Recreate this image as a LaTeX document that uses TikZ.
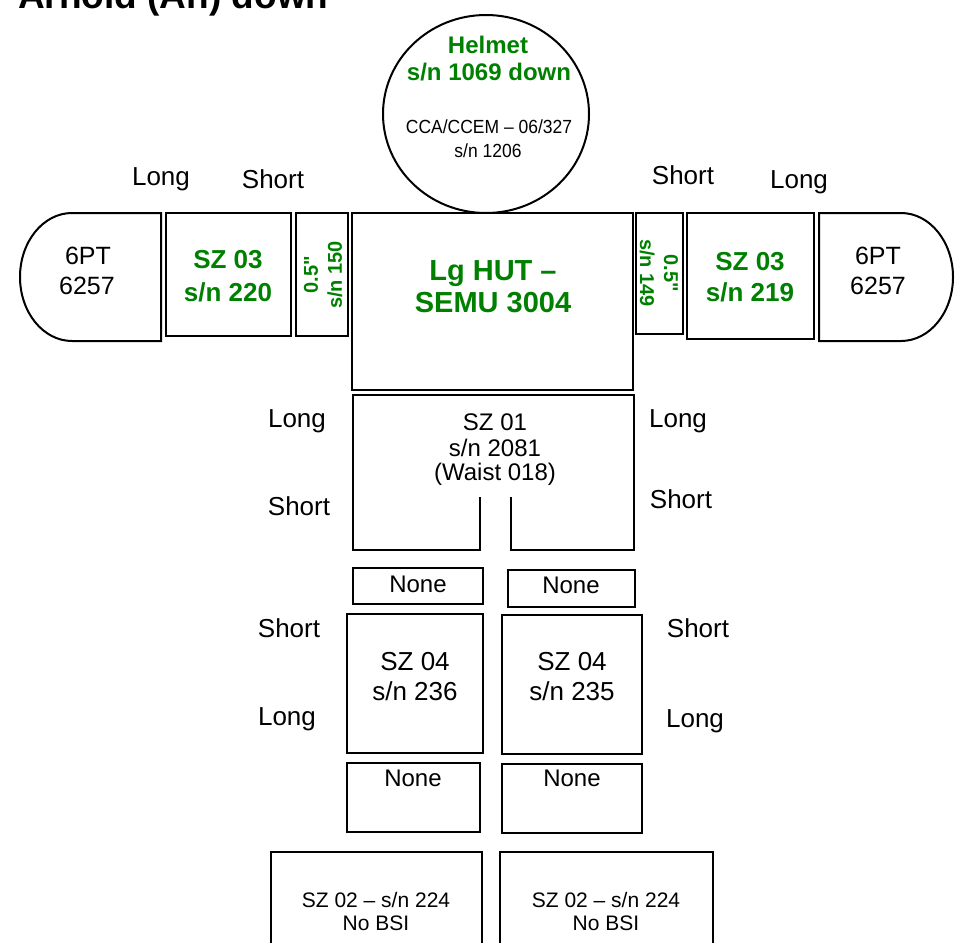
\documentclass[tikz,border=0pt]{standalone}
\usepackage{fontspec}
\setmainfont{Liberation Sans}
\newfontfamily\narrowfont[FakeStretch=0.92]{Liberation Sans}
\newcommand\strq{\XeTeXglyph\XeTeXcharglyph34\relax}
\definecolor{grn}{RGB}{0,128,0}
\tikzset{
  shp/.style={draw=black, line width=2pt, line join=miter},
  lbl/.style={inner sep=0pt, anchor=base, font=\fontsize{#1}{#1}\selectfont},
  glbl/.style={inner sep=0pt, anchor=base, text=grn, font=\bfseries\fontsize{#1}{#1}\selectfont},
  rlbl/.style={inner sep=0pt, align=center, text=grn, font=\bfseries\fontsize{20}{24}\selectfont},
}
\begin{document}
\begin{tikzpicture}[x=1pt,y=-1pt]
\useasboundingbox (0,0) rectangle (958,942);

% title (cut at top)
\node[inner sep=0pt, anchor=base west, font=\bfseries\fontsize{37}{40}\selectfont] (title) at (18,9) {Arnold (An) down};

% helmet
\draw[shp] (486,114) ellipse [x radius=103, y radius=99];
\node[glbl=24] (helm1) at (488,53) {Helmet};
\node[glbl=24] (helm2) at (489,81) {s/n 1069 down};
\node[inner sep=0pt, anchor=base, font=\narrowfont\fontsize{19}{19}\selectfont] (cca1) at (489,133) {CCA/CCEM – 06/327};
\node[inner sep=0pt, anchor=base, font=\narrowfont\fontsize{19}{19}\selectfont] (cca2) at (488,157) {s/n 1206};

% hut
\draw[shp] (352,213) rectangle (633,390);
\node[glbl=29] (hut1) at (493,280) {Lg HUT –};
\node[glbl=29] (hut2) at (493,312) {SEMU 3004};

% left arm
\draw[shp] (161,213) -- (72,213) arc[start angle=270, end angle=90, x radius=52, y radius=64] -- (161,341) -- cycle;
\node[lbl=25] (gl1) at (88,264) {6PT};
\node[lbl=25] (gl2) at (87,294) {6257};
\draw[shp] (166,213) rectangle (291,336);
\node[glbl=26] (szl1) at (228,268) {SZ 03};
\node[glbl=26] (szl2) at (228,301) {s/n 220};
\draw[shp] (296,213) rectangle (348,336);
\node[rlbl, rotate=90] (hl) at (323,275) {0.5\strq\\s/n 150};

% right arm
\draw[shp] (636,213) rectangle (683,334);
\node[rlbl, rotate=-90] (hr) at (659,273) {0.5\strq\\s/n 149};
\draw[shp] (687,213) rectangle (814,339);
\node[glbl=26] (szr1) at (750,270) {SZ 03};
\node[glbl=26] (szr2) at (750,301) {s/n 219};
\draw[shp] (819,213) -- (901,213) arc[start angle=270, end angle=450, x radius=52, y radius=64] -- (819,341) -- cycle;
\node[lbl=25] (gr1) at (878,264) {6PT};
\node[lbl=25] (gr2) at (878,294) {6257};

% top labels
\node[lbl=26] (tL1) at (161,185) {Long};
\node[lbl=26] (tS1) at (273,188) {Short};
\node[lbl=26] (tS2) at (683,184) {Short};
\node[lbl=26] (tL2) at (799,188) {Long};

% SZ 01 lower torso
\draw[shp] (480,497) -- (480,550) -- (353,550) -- (353,395) -- (634,395) -- (634,550) -- (511,550) -- (511,497);
\node[lbl=24] (sz01a) at (495,430) {SZ 01};
\node[lbl=24] (sz01b) at (495,456) {s/n 2081};
\node[lbl=24] (sz01c) at (495,480) {(Waist 018)};
\node[lbl=26] (wL1) at (297,427) {Long};
\node[lbl=26] (wS1) at (299,515) {Short};
\node[lbl=26] (wL2) at (678,427) {Long};
\node[lbl=26] (wS2) at (681,508) {Short};

% None (upper)
\draw[shp] (353,568) rectangle (483,604);
\node[lbl=24] (n1) at (418,592) {None};
\draw[shp] (508,570) rectangle (635,607);
\node[lbl=24] (n2) at (571,593) {None};

% SZ 04
\draw[shp] (347,614) rectangle (483,753);
\node[lbl=26] (sz04a) at (415,670) {SZ 04};
\node[lbl=26] (sz04b) at (415,700) {s/n 236};
\draw[shp] (502,615) rectangle (642,754);
\node[lbl=26] (sz04c) at (572,670) {SZ 04};
\node[lbl=26] (sz04d) at (572,700) {s/n 235};
\node[lbl=26] (kS1) at (289,637) {Short};
\node[lbl=26] (kL1) at (287,725) {Long};
\node[lbl=26] (kS2) at (698,637) {Short};
\node[lbl=26] (kL2) at (695,727) {Long};

% None (lower)
\draw[shp] (347,763) rectangle (480,832);
\node[lbl=24] (n3) at (413,786) {None};
\draw[shp] (502,764) rectangle (642,833);
\node[lbl=24] (n4) at (572,786) {None};

% SZ 02 boots
\draw[shp] (271,852) rectangle (482,960);
\node[lbl=21] (b1) at (376,907) {SZ 02 – s/n 224};
\node[lbl=21] (b2) at (376,930) {No BSI};
\draw[shp] (500,852) rectangle (713,960);
\node[lbl=21] (b3) at (606,907) {SZ 02 – s/n 224};
\node[lbl=21] (b4) at (606,930) {No BSI};
\end{tikzpicture}
\end{document}
